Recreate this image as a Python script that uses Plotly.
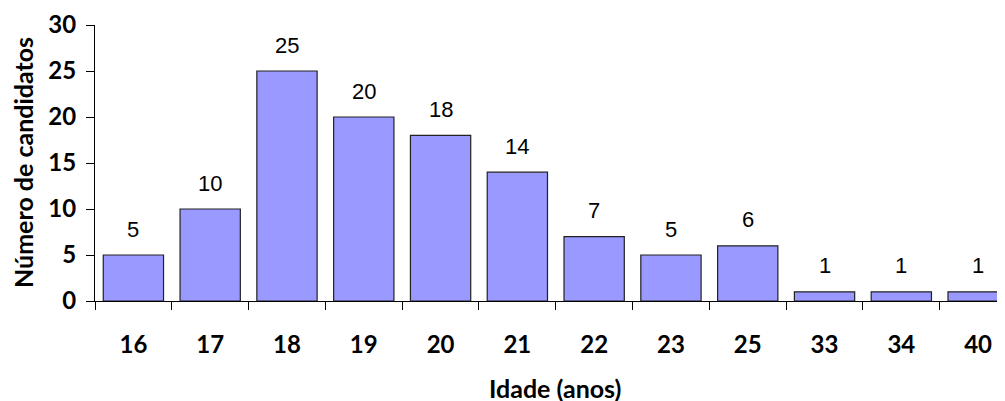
import plotly.graph_objects as go

idades = ["16", "17", "18", "19", "20", "21", "22", "23", "25", "33", "34", "40"]
candidatos = [5, 10, 25, 20, 18, 14, 7, 5, 6, 1, 1, 1]
y_ticks = [0, 5, 10, 15, 20, 25, 30]

pos = list(range(len(idades)))

# page body adds an 8px offset; figure laid out to compensate
OFF = 8
L, T, B = 95 - OFF, 25 - OFF, 110
PLOT_W, PLOT_H = 910, 276
W, H = L + PLOT_W, T + PLOT_H + B

fig = go.Figure()
fig.add_trace(go.Bar(
    x=pos, y=candidatos,
    marker=dict(color="#9999FF", line=dict(color="#222222", width=1.2)),
    width=0.785,
    hoverinfo="skip",
))

for p, v in zip(pos, candidatos):
    fig.add_annotation(x=p, y=v, text=str(v), showarrow=False,
                       yanchor="middle", yshift=26,
                       font=dict(family="Liberation Sans, Arial", size=22, color="black"))

fig.add_annotation(xref="paper", yref="paper", x=(555 - 95) / PLOT_W, y=-(388 - 301) / PLOT_H,
                   text="<b>Idade (anos)</b>", showarrow=False,
                   xanchor="center", yanchor="middle",
                   font=dict(family="Lato", size=25, color="black"))
fig.add_annotation(xref="paper", yref="paper", x=-(95 - 23) / PLOT_W, y=0.5,
                   text="<b>Número de candidatos</b>", showarrow=False, textangle=-90,
                   xanchor="center", yanchor="middle",
                   font=dict(family="Lato", size=25, color="black"))

fig.update_layout(
    width=W, height=H,
    margin=dict(l=L, r=0, t=T, b=B),
    paper_bgcolor="white", plot_bgcolor="white",
    showlegend=False,
    font=dict(family="Lato, Open Sans, sans-serif", color="black"),
)

fig.update_xaxes(
    range=[-0.5, 11.35], automargin=False,
    tickmode="array", tickvals=pos, ticktext=idades,
    ticks="", ticklabelstandoff=22,
    tickfont=dict(family="Lato", size=24, color="black", weight="bold"),
    showline=True, linecolor="black", linewidth=1.2,
    showgrid=False, zeroline=False,
    minor=dict(ticks="outside", ticklen=8, tickwidth=1.2, tickcolor="black",
               tick0=-0.5, dtick=1, showgrid=False),
)

fig.update_yaxes(
    range=[0, 30], automargin=False,
    tickmode="array", tickvals=y_ticks,
    ticks="outside", ticklen=8, tickwidth=1.2, tickcolor="black",
    ticklabelstandoff=5,
    tickfont=dict(family="Lato", size=24, color="black", weight="bold"),
    showline=True, linecolor="black", linewidth=1.2,
    showgrid=False, zeroline=False,
)

fig.write_html("out.html")
